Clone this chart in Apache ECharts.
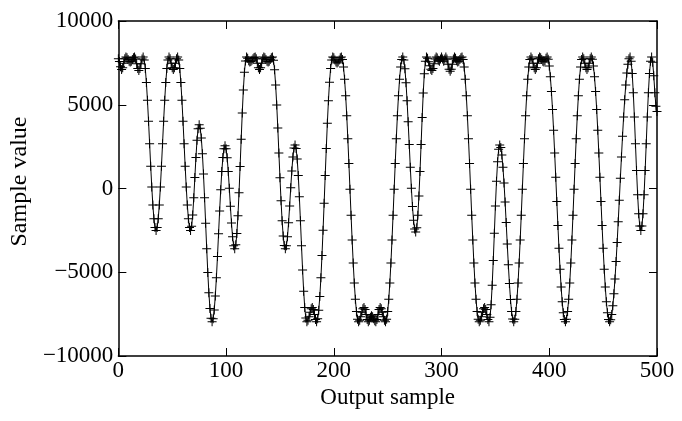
<!DOCTYPE html>
<html>
<head>
<meta charset="utf-8">
<script src="https://cdn.jsdelivr.net/npm/echarts@6/dist/echarts.min.js"></script>
<style>
html,body{margin:0;padding:0;background:#fff;}
#chart{width:682px;height:421px;}
</style>
</head>
<body>
<div id="chart"></div>
<script>
// Output sample index starts at 0, one value per sample
const sampleValues = [
7750,7588,7263,7100,7210,7475,7740,7850,7806,7700,
7594,7550,7594,7700,7806,7850,7733,7450,7167,7050,
7167,7450,7733,7850,7674,7157,6334,5263,4015,2675,
1335,88,-984,-1807,-2324,-2500,-2324,-1807,-984,88,
1335,2675,4015,5263,6334,7157,7674,7850,7740,7475,
7210,7100,7210,7475,7740,7850,7674,7157,6334,5263,
4015,2675,1335,88,-984,-1807,-2324,-2500,-2261,-1577,
-556,650,1856,2877,3561,3800,3600,3013,2079,863,
-553,-2075,-3597,-5013,-6229,-7163,-7750,-7950,-7772,-7247,
-6412,-5325,-4060,-2700,-1340,-75,1012,1847,2372,2550,
2366,1830,1013,10,-1060,-2063,-2880,-3416,-3600,-3365,
-2690,-1625,-251,1312,2938,4501,5875,6940,7615,7850,
7775,7625,7550,7579,7654,7746,7821,7850,7740,7475,
7210,7100,7210,7475,7740,7850,7806,7700,7594,7550,
7594,7700,7806,7850,7655,7083,6173,4988,3608,2125,
642,-738,-1923,-2833,-3405,-3600,-3414,-2875,-2050,-1039,
39,1050,1875,2414,2600,2384,1761,780,-486,-1926,
-3424,-4864,-6130,-7111,-7734,-7950,-7869,-7656,-7394,-7181,
-7100,-7225,-7525,-7825,-7950,-7776,-7271,-6441,-5335,-4000,
-2491,-880,780,2391,3900,5235,6341,7171,7676,7850,
7799,7675,7551,7500,7551,7675,7799,7850,7700,7250,
6515,5535,4342,2976,1491,-50,-1591,-3076,-4442,-5635,
-6615,-7350,-7800,-7950,-7869,-7656,-7394,-7181,-7100,-7225,
-7525,-7825,-7950,-7863,-7688,-7600,-7651,-7775,-7899,-7950,
-7825,-7525,-7225,-7100,-7181,-7394,-7656,-7869,-7950,-7800,
-7350,-6615,-5635,-4442,-3076,-1591,-50,1491,2976,4342,
5535,6515,7250,7700,7850,7672,7150,6319,5238,3978,
2625,1272,12,-1069,-1900,-2422,-2600,-2344,-1602,-447,
1010,2625,4240,5697,6852,7594,7850,7774,7574,7326,
7126,7050,7167,7450,7733,7850,7788,7663,7600,7725,
7850,7725,7600,7725,7850,7725,7425,7125,7000,7125,
7425,7725,7850,7775,7625,7550,7594,7700,7806,7850,
7700,7250,6515,5535,4342,2976,1491,-50,-1591,-3076,
-4442,-5635,-6615,-7350,-7800,-7950,-7869,-7656,-7394,-7181,
-7100,-7225,-7525,-7825,-7950,-7692,-6942,-5777,-4305,-2675,
-1045,427,1592,2342,2600,2447,1993,1276,321,-802,
-2037,-3313,-4548,-5671,-6626,-7343,-7797,-7950,-7800,-7350,
-6615,-5635,-4442,-3076,-1591,-50,1491,2976,4342,5535,
6515,7250,7700,7850,7740,7475,7210,7100,7210,7475,
7740,7850,7806,7700,7594,7550,7625,7775,7850,7716,
7313,6665,5788,4714,3473,2115,677,-777,-2215,-3573,
-4814,-5888,-6765,-7413,-7816,-7950,-7800,-7350,-6615,-5635,
-4442,-3076,-1591,-50,1491,2976,4342,5535,6515,7250,
7700,7850,7740,7475,7210,7100,7210,7475,7740,7850,
7716,7313,6665,5788,4714,3473,2115,677,-777,-2215,
-3573,-4814,-5888,-6765,-7413,-7816,-7950,-7839,-7523,-7002,
-6283,-5398,-4363,-3226,-1986,-706,606,1886,3126,4263,
5298,6183,6902,7423,7739,7850,7596,6862,5718,4274,
2675,1076,-368,-1512,-2246,-2500,-2246,-1512,-368,1076,
2675,4274,5718,6862,7596,7850,7540,6727,5723,4910,
4600
];
const xTickValues = [0, 100, 200, 300, 400, 500];
const xTickLabels = ['0', '100', '200', '300', '400', '500'];
const yTickValues = [-10000, -5000, 0, 5000, 10000];
const yTickLabels = ['\u221210000', '\u22125000', '0', '5000', '10000'];
const xAxisTitle = 'Output sample';
const yAxisTitle = 'Sample value';

const seriesData = sampleValues.map((v, i) => [i, v]);
const FONT = '"Liberation Serif", "DejaVu Serif", serif';
const crossPath = 'path://M4,0H5V4H9V5H5V9H4V5H0V4H4Z';

function labelFor(values, labels) {
  return function (v) {
    const i = values.indexOf(v);
    return i >= 0 ? labels[i] : '';
  };
}

const chart = echarts.init(document.getElementById('chart'), null, {renderer: 'canvas'});
const axisLineStyle = {color: '#000', width: 1.5};
chart.setOption({
  animation: false,
  backgroundColor: '#fff',
  grid: {left: 112, right: 25, top: 21, bottom: 65, containLabel: false},
  xAxis: [{
    type: 'value', min: 0, max: 500, interval: 100,
    position: 'bottom',
    name: xAxisTitle, nameLocation: 'middle', nameGap: 24,
    nameTextStyle: {fontFamily: FONT, fontSize: 23, color: '#000'},
    axisLine: {show: true, onZero: false, lineStyle: axisLineStyle},
    axisTick: {show: true, inside: true, length: 8, lineStyle: {color: '#000', width: 1}},
    axisLabel: {show: true, margin: 3, fontFamily: FONT, fontSize: 23, color: '#000',
      formatter: labelFor(xTickValues, xTickLabels)},
    splitLine: {show: false}
  }, {
    type: 'value', min: 0, max: 500, interval: 100,
    position: 'top',
    axisLine: {show: true, onZero: false, lineStyle: axisLineStyle},
    axisTick: {show: true, inside: true, length: 8, lineStyle: {color: '#000', width: 1}},
    axisLabel: {show: false},
    splitLine: {show: false}
  }],
  yAxis: [{
    type: 'value', min: -10000, max: 10000, interval: 5000,
    position: 'left',
    name: yAxisTitle, nameLocation: 'middle', nameGap: 70, nameRotate: 90,
    nameTextStyle: {fontFamily: FONT, fontSize: 24, color: '#000', padding: [0, 0, 0, 14]},
    axisLine: {show: true, onZero: false, lineStyle: axisLineStyle},
    axisTick: {show: true, inside: true, length: 8, lineStyle: {color: '#000', width: 1}},
    axisLabel: {show: true, margin: 5, fontFamily: FONT, fontSize: 23, color: '#000',
      formatter: labelFor(yTickValues, yTickLabels)},
    splitLine: {show: false}
  }, {
    type: 'value', min: -10000, max: 10000, interval: 5000,
    position: 'right',
    axisLine: {show: true, onZero: false, lineStyle: axisLineStyle},
    axisTick: {show: true, inside: true, length: 8, lineStyle: {color: '#000', width: 1}},
    axisLabel: {show: false},
    splitLine: {show: false}
  }],
  series: [{
    type: 'line',
    data: seriesData,
    xAxisIndex: 0, yAxisIndex: 0,
    showAllSymbol: true,
    symbol: crossPath,
    symbolSize: 9,
    itemStyle: {color: '#000', borderWidth: 0},
    lineStyle: {color: '#000', width: 1},
    emphasis: {disabled: true},
    silent: true,
    z: 1
  }]
});
</script>
</body>
</html>
